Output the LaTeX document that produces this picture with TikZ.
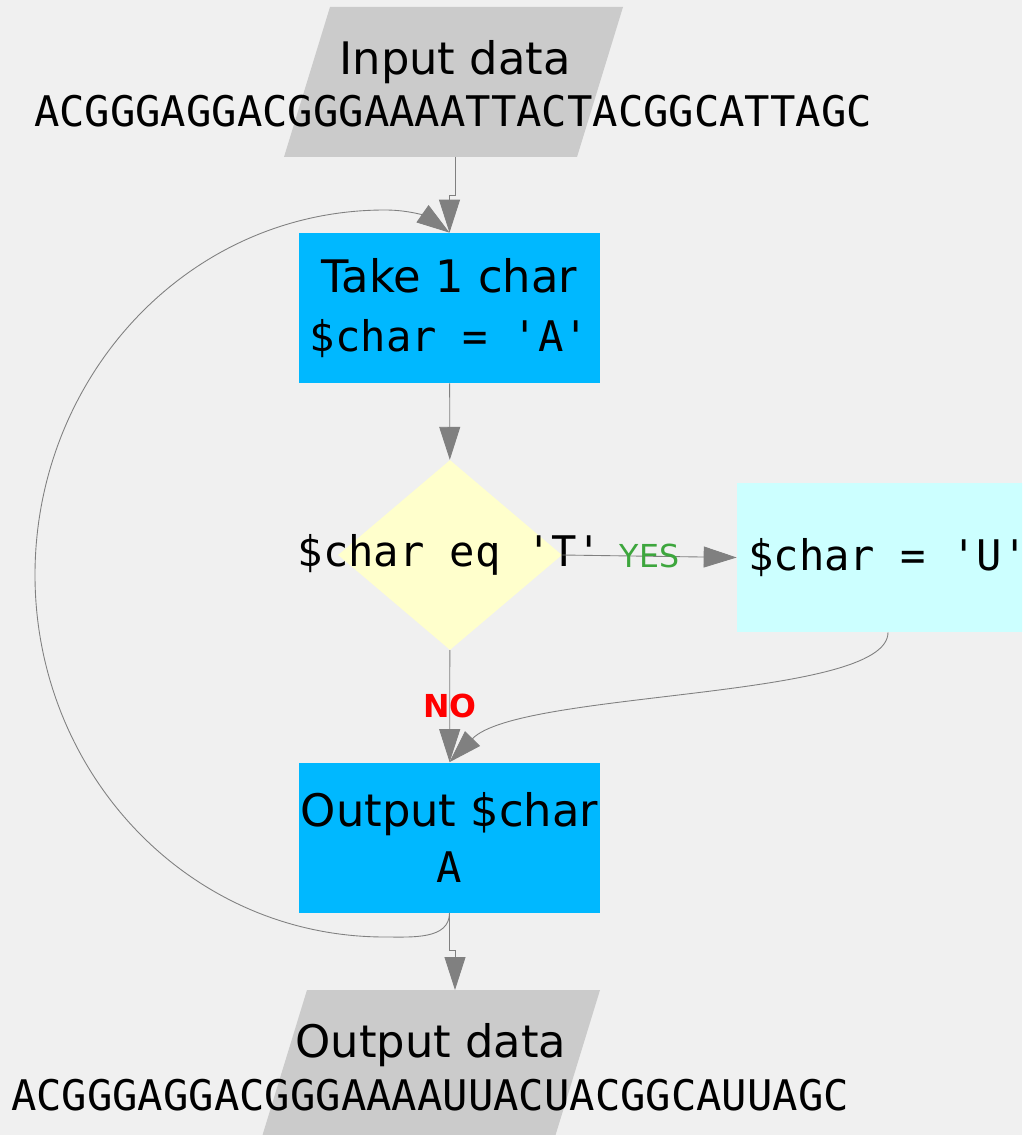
\documentclass[tikz,border=0pt]{standalone}
\usepackage{fontspec}
\usetikzlibrary{arrows.meta,shapes.geometric}

\newfontfamily\headfont{DejaVu Sans}
\newfontfamily\codefont{DejaVu Sans Mono}
\newcommand\headsize{\fontsize{25.5}{31}\selectfont}
\newcommand\codesize{\fontsize{24}{31}\selectfont}

\definecolor{bgcol}{HTML}{F0F0F0}
\definecolor{datagray}{HTML}{CBCBCB}
\definecolor{procblue}{HTML}{00B8FF}
\definecolor{testyellow}{HTML}{FFFFCC}
\definecolor{fixcyan}{HTML}{CCFFFF}
\definecolor{linegray}{HTML}{808080}
\definecolor{yesgreen}{HTML}{3DA63D}

\tikzset{
    flow/.style={draw=linegray, line width=0.5pt, -{Triangle[length=6.6mm,width=4.2mm]}, color=linegray},
    headtxt/.style={font=\headfont\headsize, inner sep=0pt},
    codetxt/.style={font=\codefont\codesize, inner sep=0pt},
    procbox/.style={rectangle, fill=procblue, minimum width=60.2mm, minimum height=30mm,
        inner sep=0pt, align=center, font=\headfont\headsize},
    fixbox/.style={rectangle, fill=fixcyan, minimum width=60.4mm, minimum height=29.8mm,
        inner sep=0pt, font=\codefont\codesize},
    decision/.style={diamond, fill=testyellow, minimum width=44.8mm, minimum height=38mm, inner sep=0pt},
    yeslbl/.style={text=yesgreen, font=\headfont\fontsize{18}{20}\selectfont, inner sep=1pt},
    nolbl/.style={text=red, font=\headfont\bfseries\fontsize{18}{20}\selectfont, inner sep=1pt}
}

\begin{document}
\begin{tikzpicture}[x=0.2mm,y=0.2mm]
    \useasboundingbox (0,0) rectangle (1022,-1135);
    \clip (0,0) rectangle (1022,-1135);
    \fill[bgcol] (0,0) rectangle (1022,-1135);

    % input data
    \fill[datagray] (330,-7) -- (623,-7) -- (577,-157) -- (284,-157) -- cycle;
    \node[headtxt, anchor=base] (intitle) at (455,-75) {Input data};
    \node[codetxt, anchor=base] (inseq) at (453,-127) {ACGGGAGGACGGGAAAATTACTACGGCATTAGC};
    \coordinate (inbot) at (455,-157);

    \node[procbox] (take) at (449.5,-308) {Take 1 char\\[2.5pt]{\codefont\codesize\$char = 'A'}};
    \node[decision, label={[codetxt]center:\$char eq 'T'}] (test) at (450,-555) {};
    \node[fixbox] (ubox) at (888,-557.5) {\$char = 'U'};
    \node[procbox] (outc) at (449.5,-837.5) {Output \$char\\[0.5pt]{\codefont\codesize A}};

    % output data
    \fill[datagray] (307,-990) -- (600,-990) -- (554,-1140) -- (261,-1140) -- cycle;
    \node[headtxt, anchor=base] (outtitle) at (431,-1057) {Output data};
    \node[codetxt, anchor=base] (outseq) at (430,-1110) {ACGGGAGGACGGGAAAAUUACUACGGCAUUAGC};
    \coordinate (outd) at (455,-990);

    % connectors
    \draw[flow] (inbot) -- ++(0,-38) -| (take.north);
    \draw[flow] (take) -- (test);
    \draw[flow] (test.east) -- node[yeslbl]{YES} (ubox.west);
    \draw[flow] (test) -- node[nolbl]{NO} (outc);
    \draw[flow] (ubox.south) .. controls (888,-700) and (520,-690) .. (outc.north);
    \draw[flow] (outc.south) to[out=-90,in=0] (385,-937) to[out=180,in=-90] (35,-575)
        to[out=90,in=180] (385,-210) to[out=0,in=145] (take.north);
    \draw[flow] (outc.south) -- ++(0,-38) -| (outd);
\end{tikzpicture}
\end{document}
